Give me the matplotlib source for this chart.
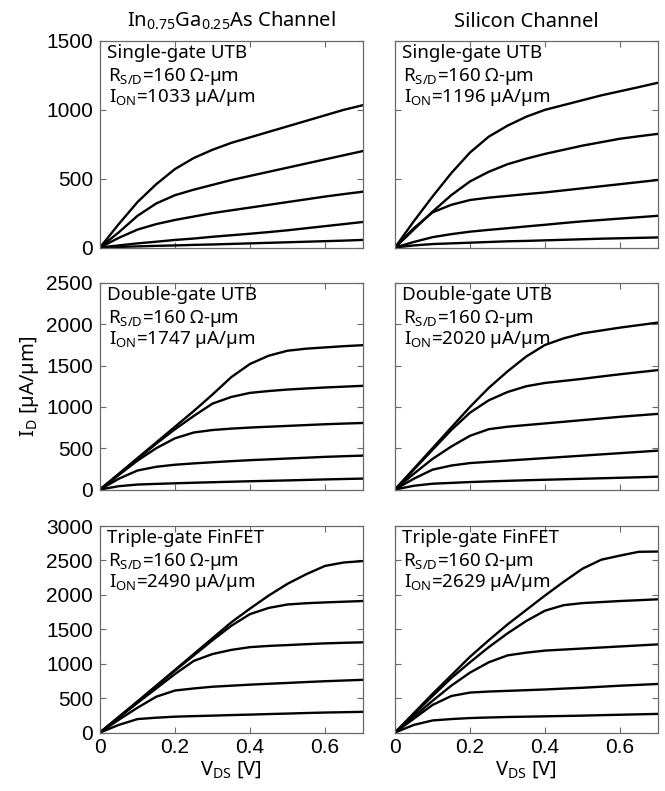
import matplotlib
matplotlib.use('Agg')
from matplotlib import pyplot as plt

plt.rcParams['font.family'] = ['Noto Sans', 'DejaVu Sans']
plt.rcParams['mathtext.fontset'] = 'custom'
plt.rcParams['mathtext.rm'] = 'Noto Sans'
plt.rcParams['mathtext.it'] = 'Noto Sans'

# drain voltage grid [V]
vds = [0, 0.05, 0.1, 0.15, 0.2, 0.25, 0.3, 0.35, 0.4, 0.45, 0.5, 0.55, 0.6, 0.65, 0.7]

# drain current [uA/um], one list per gate voltage, top curve first
ingaas_sg = [
    [0, 170, 330, 460, 570, 650, 710, 760, 800, 840, 880, 920, 960, 1000, 1033],
    [0, 110, 230, 320, 380, 420, 455, 490, 520, 550, 580, 610, 640, 670, 700],
    [0, 70, 130, 170, 200, 225, 250, 270, 290, 310, 330, 350, 370, 388, 405],
    [0, 15, 30, 42, 55, 65, 78, 89, 100, 112, 125, 140, 155, 170, 185],
    [0, 4, 8, 12, 15, 19, 22, 26, 30, 34, 38, 42, 46, 50, 55],
]
si_sg = [
    [0, 190, 370, 540, 690, 805, 885, 950, 1000, 1035, 1070, 1105, 1135, 1165, 1196],
    [0, 130, 260, 380, 480, 550, 605, 645, 680, 710, 740, 765, 790, 808, 825],
    [0, 140, 255, 310, 345, 362, 375, 388, 400, 415, 430, 445, 460, 475, 490],
    [0, 40, 75, 97, 115, 128, 140, 153, 165, 178, 190, 200, 210, 220, 230],
    [0, 15, 25, 30, 35, 40, 45, 48, 52, 56, 60, 64, 67, 70, 73],
]
ingaas_dg = [
    [0, 190, 380, 570, 760, 950, 1150, 1360, 1520, 1620, 1680, 1705, 1720, 1735, 1747],
    [0, 185, 370, 555, 730, 890, 1040, 1120, 1170, 1192, 1210, 1223, 1235, 1245, 1255],
    [0, 175, 350, 500, 620, 690, 720, 737, 750, 760, 770, 780, 790, 798, 805],
    [0, 130, 230, 275, 300, 316, 330, 343, 355, 365, 375, 385, 395, 403, 410],
    [0, 40, 60, 68, 75, 82, 88, 94, 100, 105, 110, 116, 122, 127, 132],
]
si_dg = [
    [0, 250, 500, 750, 1000, 1230, 1430, 1610, 1750, 1830, 1890, 1925, 1960, 1990, 2020],
    [0, 240, 480, 720, 930, 1080, 1180, 1250, 1290, 1315, 1340, 1368, 1395, 1420, 1445],
    [0, 190, 370, 520, 650, 730, 760, 780, 800, 820, 840, 860, 880, 898, 915],
    [0, 130, 240, 290, 320, 335, 350, 365, 380, 395, 410, 425, 440, 455, 470],
    [0, 45, 70, 80, 90, 98, 105, 112, 118, 124, 130, 136, 142, 148, 155],
]
ingaas_tg = [
    [0, 225, 450, 680, 910, 1140, 1370, 1600, 1800, 1990, 2160, 2300, 2420, 2470, 2490],
    [0, 225, 450, 675, 900, 1120, 1340, 1550, 1720, 1810, 1860, 1878, 1890, 1900, 1910],
    [0, 215, 430, 640, 850, 1040, 1140, 1200, 1240, 1258, 1270, 1283, 1295, 1303, 1310],
    [0, 185, 360, 520, 610, 640, 665, 680, 695, 708, 720, 733, 745, 755, 765],
    [0, 110, 195, 215, 230, 238, 245, 253, 260, 268, 275, 283, 290, 295, 300],
]
si_tg = [
    [0, 280, 560, 830, 1100, 1340, 1570, 1780, 1990, 2190, 2380, 2510, 2570, 2625, 2629],
    [0, 265, 530, 790, 1020, 1240, 1440, 1620, 1770, 1850, 1880, 1895, 1910, 1922, 1935],
    [0, 230, 460, 680, 870, 1020, 1120, 1160, 1190, 1205, 1220, 1235, 1250, 1265, 1280],
    [0, 200, 400, 530, 580, 595, 605, 615, 625, 638, 650, 665, 680, 692, 705],
    [0, 110, 175, 195, 210, 218, 225, 230, 235, 240, 245, 252, 258, 264, 270],
]

devices = ['Single-gate UTB', 'Double-gate UTB', 'Triple-gate FinFET']
ion_ingaas = [1033, 1747, 2490]
ion_si = [1196, 2020, 2629]
ymax = [1500, 2500, 3000]
xticks = [0, 0.2, 0.4, 0.6]
col_titles = [r'In$_{\mathregular{0.75}}$Ga$_{\mathregular{0.25}}$As Channel', 'Silicon Channel']

panels = [[ingaas_sg, si_sg], [ingaas_dg, si_dg], [ingaas_tg, si_tg]]
ions = [ion_ingaas, ion_si]

fig = plt.figure(figsize=(6.65, 7.91), dpi=100)
W, H = 665.0, 791.0
lefts = [100, 395]
tops = [41, 283, 526]
aw, ah = 262.5, 206.5
frame = '#6a6a6a'
tickfont = {'family': 'Liberation Sans', 'size': 15}

for r in range(3):
    for c in range(2):
        ax = fig.add_axes([lefts[c] / W, 1 - (tops[r] + ah) / H, aw / W, ah / H])
        for curve in panels[r][c]:
            ax.plot(vds, curve, color='black', lw=1.7)
        ax.set_xlim(0, 0.7)
        ax.set_ylim(0, ymax[r])
        ax.set_xticks(xticks)
        ax.set_yticks(list(range(0, ymax[r] + 1, 500)))
        ax.tick_params(direction='in', length=4, width=0.8, color=frame,
                       top=True, right=True, pad=5)
        ax.tick_params(axis='x', pad=4)
        for s in ax.spines.values():
            s.set_color(frame)
            s.set_linewidth(0.9)
        if r == 2:
            ax.set_xticklabels(['0', '0.2', '0.4', '0.6'], fontdict=tickfont)
            ax.set_xlabel(r'V$_{\mathregular{DS}}$ [V]', fontsize=14.5, labelpad=2)
        else:
            ax.set_xticklabels([])
        if c == 0:
            ax.set_yticklabels([str(v) for v in range(0, ymax[r] + 1, 500)], fontdict=tickfont)
        else:
            ax.set_yticklabels([])
        if r == 1 and c == 0:
            ax.set_ylabel(r'I$_{\mathregular{D}}$ [µA/µm]', fontsize=14.5, labelpad=4)
        if r == 0:
            ax.set_title(col_titles[c], fontsize=14.5, pad=10)
        ax.text(0.025, 0.985, devices[r], transform=ax.transAxes, fontsize=13.5,
                va='top', ha='left')
        ax.text(0.03, 0.88, r'R$_{\mathregular{S/D}}$=160 Ω-µm', transform=ax.transAxes,
                fontsize=13.5, va='top', ha='left')
        ax.text(0.035, 0.775, r'I$_{\mathregular{ON}}$=%d µA/µm' % ions[c][r],
                transform=ax.transAxes, fontsize=13.5, va='top', ha='left')

fig.savefig('out.png', dpi=100)
plt.close(fig)
